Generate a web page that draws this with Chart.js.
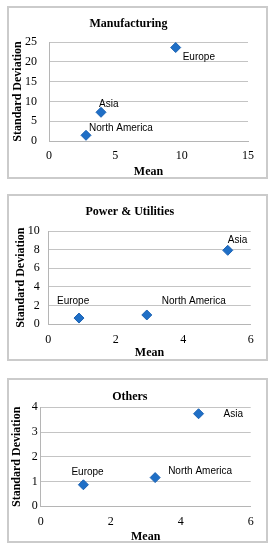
<!DOCTYPE html>
<html>
<head>
<meta charset="utf-8">
<script src="https://cdn.jsdelivr.net/npm/chart.js@4"></script>
<style>
  body { margin: 0; background: #fff; width: 276px; height: 550px; position: relative; }
  .panel { position: absolute; left: 7px; width: 261px; box-sizing: border-box; border: 2px solid #cbcbcb; }
  canvas { display: block; }
</style>
</head>
<body>
<div class="panel" style="top:6px;height:173px"><canvas id="c1" width="257" height="169"></canvas></div>
<div class="panel" style="top:194px;height:167px"><canvas id="c2" width="257" height="163"></canvas></div>
<div class="panel" style="top:378px;height:165px"><canvas id="c3" width="257" height="161"></canvas></div>
<script>
// regiones (mismo orden en los tres graficos)
var regiones = ['Europe', 'Asia', 'North America'];

// Manufacturing
var manufMedia = [9.55, 3.92, 2.79];
var manufDesv = [23.6, 7.25, 1.44];

// Power & Utilities
var energiaMedia = [0.91, 5.32, 2.92];
var energiaDesv = [0.67, 7.93, 1.0];

// Others
var otrosMedia = [1.22, 4.51, 3.27];
var otrosDesv = [0.87, 3.74, 1.16];

Chart.defaults.font.family = '"Liberation Serif", "Times New Roman", serif';
Chart.defaults.font.size = 12;
Chart.defaults.color = '#000';

// dibuja el nombre de la region junto a cada punto
var etiquetas = {
    id: 'etiquetas',
    afterDatasetsDraw: function (chart, args, opts) {
        var ctx = chart.ctx;
        var meta = chart.getDatasetMeta(0);
        ctx.save();
        ctx.font = '10px "Liberation Sans", Arial, sans-serif';
        ctx.fillStyle = '#000';
        ctx.textAlign = 'left';
        ctx.textBaseline = 'middle';
        meta.data.forEach(function (p, i) {
            var off = opts.offsets[i];
            ctx.fillText(regiones[i], p.x + off[0], p.y + off[1]);
        });
        ctx.restore();
    }
};

function GenerarGrafico(id, titulo, medias, desv, cfg) {
    var puntos = medias.map(function (m, i) { return { x: m, y: desv[i] }; });
    return new Chart(document.getElementById(id), {
        type: 'scatter',
        data: {
            datasets: [{
                data: puntos,
                pointStyle: 'rectRot',
                pointRadius: 5,
                pointHoverRadius: 5,
                backgroundColor: '#1f6fc6',
                borderColor: '#1b62b3',
                borderWidth: 1
            }]
        },
        options: {
            responsive: false,
            animation: false,
            events: [],
            layout: { padding: { left: 0, right: cfg.right, top: 0, bottom: 0 } },
            plugins: {
                legend: { display: false },
                tooltip: { enabled: false },
                title: {
                    display: true,
                    text: titulo,
                    font: { size: 12, weight: 'bold' },
                    color: '#000',
                    padding: { top: cfg.titleTop, bottom: cfg.titleBottom }
                },
                etiquetas: { offsets: cfg.offsets }
            },
            scales: {
                x: {
                    type: 'linear',
                    min: 0,
                    max: cfg.xMax,
                    ticks: { stepSize: cfg.xStep, padding: 8, color: '#000' },
                    grid: { display: false, drawTicks: false },
                    border: { display: true, color: '#b5b5b5' },
                    title: {
                        display: true,
                        text: 'Mean',
                        font: { size: 12, weight: 'bold', lineHeight: cfg.meanLH },
                        color: '#000',
                        padding: { top: 0, bottom: 0 }
                    },
                    afterFit: function (s) { s.height = cfg.xHeight; }
                },
                y: {
                    min: 0,
                    max: cfg.yMax,
                    ticks: { stepSize: cfg.yStep, padding: cfg.yPad, color: '#000' },
                    grid: { color: '#c4c4c4', drawTicks: false },
                    border: { display: true, color: '#b5b5b5' },
                    title: {
                        display: true,
                        text: 'Standard Deviation',
                        font: { size: 12, weight: 'bold' },
                        color: '#000',
                        padding: { top: cfg.yTitlePad, bottom: 0 }
                    },
                    afterFit: function (s) { s.width = cfg.yWidth; }
                }
            }
        },
        plugins: [etiquetas]
    });
}

GenerarGrafico('c1', 'Manufacturing', manufMedia, manufDesv, {
    xMax: 15, xStep: 5, yMax: 25, yStep: 5,
    right: 18, titleTop: 8.8, titleBottom: 10.8,
    xHeight: 36, yWidth: 40, yPad: 12, yTitlePad: 1.5, meanLH: 0.8,
    offsets: [[7, 10], [-2, -8], [3, -7]]
});

GenerarGrafico('c2', 'Power & Utilities', energiaMedia, energiaDesv, {
    xMax: 6, xStep: 2, yMax: 10, yStep: 2,
    right: 15.3, titleTop: 8.8, titleBottom: 11.8,
    xHeight: 34.7, yWidth: 39.3, yPad: 8.5, yTitlePad: 5, meanLH: 1.0,
    offsets: [[-22, -17], [0, -10], [15, -14]]
});

GenerarGrafico('c3', 'Others', otrosMedia, otrosDesv, {
    xMax: 6, xStep: 2, yMax: 4, yStep: 1,
    right: 15.3, titleTop: 9.8, titleBottom: 3.1,
    xHeight: 34.7, yWidth: 31.7, yPad: 3, yTitlePad: 1, meanLH: 0.72,
    offsets: [[-12, -13], [25, 1], [13, -6]]
});
</script>
</body>
</html>
